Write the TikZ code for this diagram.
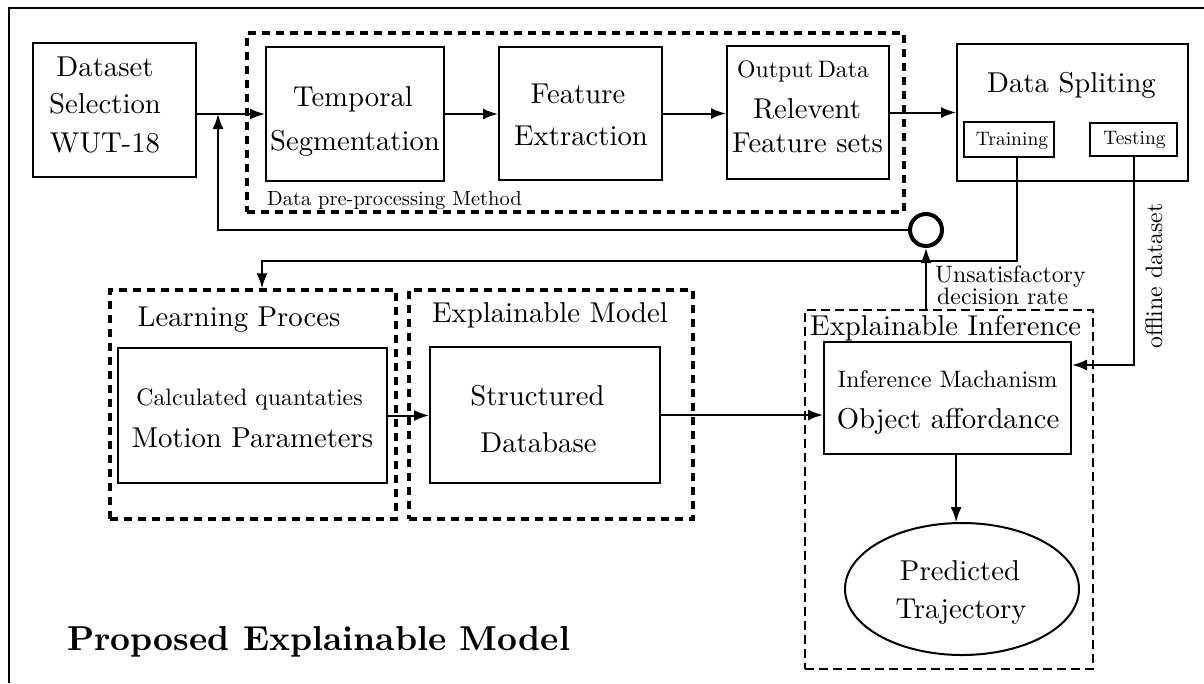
\documentclass[tikz,border=0pt]{standalone}
\usetikzlibrary{arrows.meta,shapes.geometric}
\font\FBig="[lmroman10-regular]:mapping=tex-text" at 28.7pt
\font\FMed="[lmroman10-regular]:mapping=tex-text" at 23.8pt
\font\FSm="[lmroman10-regular]:mapping=tex-text" at 19.5pt
\font\FPre="[lmroman10-regular]:mapping=tex-text" at 20.5pt
\font\FTitle="[lmroman10-bold]:mapping=tex-text" at 34.6pt
\begin{document}
\begin{tikzpicture}[x=1pt,y=-1pt,
  box/.style={draw,line width=2pt,inner sep=0pt,rectangle},
  sbox/.style={draw,line width=1.1pt,inner sep=0pt,rectangle},
  grp/.style={draw,line width=3.2pt,dash pattern=on 8pt off 6pt,inner sep=0pt,rectangle},
  grpthin/.style={draw,line width=2pt,dash pattern=on 9pt off 5pt,inner sep=0pt,rectangle},
  conn/.style={line width=2pt},
  arr/.style={conn,-{Latex[length=15pt,width=11pt]}},
  tb/.style={font=\FBig,inner sep=0pt,anchor=base},
  tm/.style={font=\FMed,inner sep=0pt,anchor=base},
  ts/.style={font=\FSm,inner sep=0pt,anchor=base},
]
\useasboundingbox (0,0) rectangle (1204,683);
% outer frame (only top and left edges visible)
\coordinate (fa) at (9,683);
\coordinate (fc) at (9,8);
\coordinate (fd) at (1204,8);
\draw[line width=2pt] (fa) -- (fc) -- (fd);

% group boxes
\node[grp,minimum width=657pt,minimum height=179pt] (pre) at (575.5,122.5) {};
\node[grp,minimum width=286pt,minimum height=229pt] (lp) at (253,404.5) {};
\node[grp,minimum width=284pt,minimum height=229pt] (em) at (551,404.5) {};
\node[grpthin,minimum width=288pt,minimum height=359pt] (ei) at (949,489.5) {};

% boxes
\node[box,minimum width=163pt,minimum height=134pt] (ds) at (114.5,110) {};
\node[box,minimum width=178pt,minimum height=134pt] (tsg) at (355,114) {};
\node[box,minimum width=163pt,minimum height=133pt] (fe) at (580.5,113.5) {};
\node[box,minimum width=162pt,minimum height=133pt] (rf) at (808,112.5) {};
\node[box,minimum width=231pt,minimum height=137pt] (dsp) at (1072.5,112.5) {};
\node[sbox,minimum width=90pt,minimum height=35pt] (tr) at (1009,139.5) {};
\node[sbox,minimum width=87pt,minimum height=33pt] (te) at (1133.5,139.5) {};
\node[box,minimum width=269pt,minimum height=135pt] (mp) at (252.5,415.5) {};
\node[box,minimum width=230pt,minimum height=136pt] (sd) at (545,415) {};
\node[box,minimum width=247pt,minimum height=112pt] (im) at (947.5,398) {};
\node[ellipse,draw,line width=2pt,inner sep=0pt,minimum width=234pt,minimum height=132pt] (pt) at (962,589) {};
\node[circle,draw,line width=4pt,inner sep=0pt,minimum size=32pt] (cir) at (926,230) {};

% texts
\node[tb] (ds1) at (105,76) {Dataset};
\node[tb] (ds2) at (105,113) {Selection};
\node[tb] (ds3) at (105,152) {WUT-18};
\node[tb] (ts1) at (353,106) {Temporal};
\node[tb] (ts2) at (355,150) {Segmentation};
\node[tb] (fe1) at (578,103) {Feature};
\node[tb] (fe2) at (581,145) {Extraction};
\node[tm] (rf0) at (803,77) {Output\kern4pt Data};
\node[tb] (rf1) at (807,118) {Relevent};
\node[tb] (rf2) at (807.5,152) {Feature sets};
\node[tb] (dsp1) at (1071.5,92) {Data Spliting};
\node[ts] (tr1) at (1012,145) {Training};
\node[ts] (te1) at (1134.5,144) {Testing};
\node[font=\FPre,inner sep=0pt,anchor=base west] (pre1) at (267,205) {Data pre-processing Method};
\node[tb] (lp1) at (239,326) {Learning Proces};
\node[tm] (mp1) at (249.5,405) {Calculated quantaties};
\node[tb] (mp2) at (252.5,447) {Motion Parameters};
\node[tb] (em1) at (550,322) {Explainable Model};
\node[tb] (sd1) at (537.5,405) {Structured};
\node[tb] (sd2) at (538.5,452) {Database};
\node[tb,anchor=base west] (ei1) at (810,335) {Explainable Inference};
\node[tm] (im1) at (947.5,387) {Inference Machanism};
\node[tb] (im2) at (948,428) {Object affordance};
\node[tb] (pt1) at (960,580) {Predicted};
\node[tb] (pt2) at (961,618) {Trajectory};
\node[tm,anchor=base west] (un1) at (935,282) {Unsatisfactory};
\node[tm,anchor=base west] (un2) at (937,304) {decision rate};
\node[tm,rotate=90] (off1) at (1162,276) {offline dataset};
\node[font=\FTitle,inner sep=0pt,anchor=base west] (title) at (67,650) {Proposed Explainable Model};

% connectors
\coordinate (fbx) at (218,230);
\coordinate (trk) at (1017,261);
\coordinate (lpx) at (262,261);
\coordinate (tek) at (1133,365);

\draw[arr] (ds.east |- tsg.west) -- (tsg.west);
\draw[arr] (cir.west) -- (fbx) -- (fbx |- tsg.west);
\draw[arr] (tsg.east) -- (tsg.east -| fe.west);
\draw[arr] (fe.east) -- (fe.east -| rf.west);
\draw[arr] (rf.east) -- (rf.east -| dsp.west);
\draw[arr] (tr.south -| trk) -- (trk) -- (lpx) -- (lpx |- lp.north);
\draw[arr] (cir |- ei.north) -- (cir.south);
\draw[arr] (te.south) |- (im.east |- tek);
\draw[arr] (mp.east) -- (mp.east -| sd.west);
\draw[arr] (sd.east) -- (sd.east -| im.west);
\draw[arr] (im.south -| pt.95) -- (pt.95);
\end{tikzpicture}
\end{document}
